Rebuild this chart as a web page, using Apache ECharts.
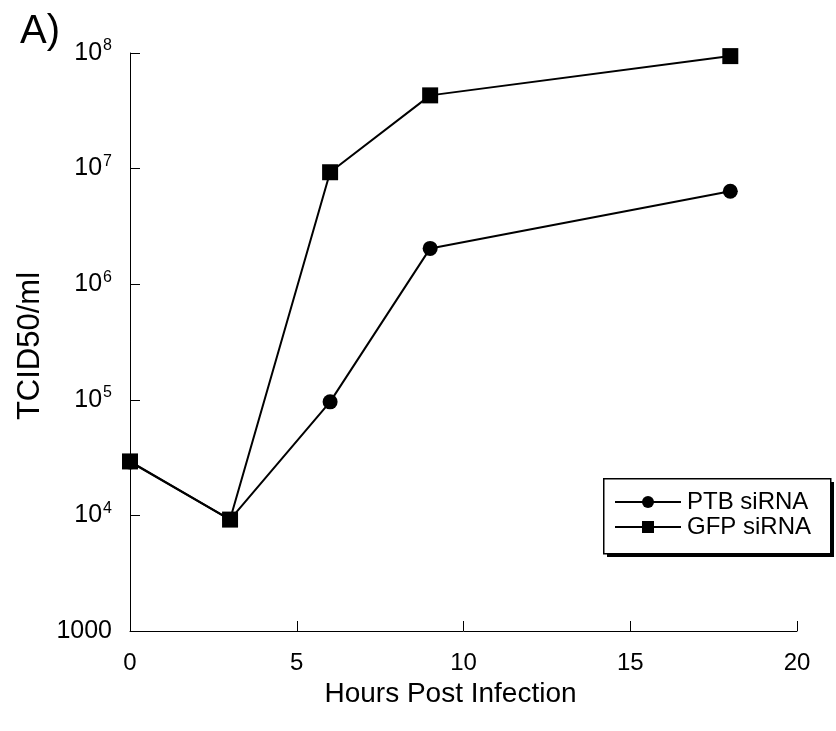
<!DOCTYPE html>
<html>
<head>
<meta charset="utf-8">
<script src="https://cdn.jsdelivr.net/npm/echarts@6/dist/echarts.min.js"></script>
<style>
  html, body { margin: 0; padding: 0; background: #fff; }
  #main { width: 836px; height: 731px; }
</style>
</head>
<body>
<div id="main"></div>
<script>
// hours post infection
var hours = [0, 3, 6, 9, 18];
// TCID50/ml
var ptbValues = [29000, 9200, 96000, 2040000, 6370000];
var gfpValues = [29300, 9200, 9300000, 43000000, 94000000];
var xTicks = [0, 5, 10, 15, 20];

var chartDom = document.getElementById('main');
var myChart = echarts.init(chartDom);
var font = 'Liberation Sans, Arial, sans-serif';

function pairs(xs, ys) {
  return xs.map(function (x, i) { return [x, ys[i]]; });
}

var option = {
  backgroundColor: '#fff',
  animation: false,
  textStyle: { fontFamily: font, color: '#000' },
  title: {
    text: 'A)',
    left: 15,
    top: 7,
    textStyle: { fontSize: 40, fontWeight: 'normal', color: '#000', fontFamily: font }
  },
  grid: {
    left: 130,
    right: 39,
    top: 53,
    bottom: 100
  },
  // legend box with its hard drop shadow
  graphic: [
    { type: 'rect', left: 607, top: 482, shape: { width: 227, height: 75 }, style: { fill: '#000' }, z: 1 },
    { type: 'rect', left: 603, top: 478, shape: { width: 227, height: 75 }, style: { fill: '#fff', stroke: '#000', lineWidth: 1.5 }, z: 2 }
  ],
  legend: {
    left: 614,
    top: 490,
    orient: 'vertical',
    itemWidth: 66,
    itemHeight: 15,
    itemGap: 1,
    padding: 0,
    z: 10,
    textStyle: { fontSize: 24, lineHeight: 24, color: '#000', fontFamily: font, padding: [0, 0, 0, 1] },
    data: ['PTB siRNA', 'GFP siRNA']
  },
  xAxis: {
    type: 'value',
    min: 0,
    max: 20,
    interval: 5,
    name: 'Hours Post Infection',
    nameLocation: 'middle',
    nameGap: 44,
    nameTextStyle: { fontSize: 28, color: '#000', fontFamily: font, padding: [0, 26, 0, 0] },
    axisLine: { lineStyle: { color: '#000', width: 1 } },
    axisTick: { inside: true, length: 10, lineStyle: { color: '#000' } },
    axisLabel: {
      fontSize: 24, color: '#000', margin: 20,
      formatter: function (v) { return xTicks.indexOf(v) >= 0 ? String(v) : ''; }
    },
    splitLine: { show: false }
  },
  yAxis: {
    type: 'log',
    logBase: 10,
    min: 1000,
    max: 100000000,
    name: 'TCID50/ml',
    nameLocation: 'middle',
    nameGap: 83,
    nameRotate: 90,
    nameTextStyle: { fontSize: 31, color: '#000', fontFamily: font, padding: [0, 8, 0, 0] },
    axisLine: { show: true, lineStyle: { color: '#000', width: 1 } },
    axisTick: { show: true, inside: true, length: 10, lineStyle: { color: '#000' } },
    axisLabel: {
      fontSize: 25, color: '#000', margin: 18,
      formatter: function (v) {
        var e = Math.round(Math.log(v) / Math.LN10);
        if (e === 3) return '1000';
        return '10{sup|' + e + '}';
      },
      rich: {
        sup: { fontSize: 16, verticalAlign: 'top', padding: [0, 0, 14, 1], color: '#000' }
      }
    },
    splitLine: { show: false }
  },
  series: [
    {
      name: 'PTB siRNA',
      type: 'line',
      data: pairs(hours, ptbValues),
      symbol: 'circle',
      symbolSize: 15,
      showAllSymbol: true,
      lineStyle: { color: '#000', width: 2 },
      itemStyle: { color: '#000' },
      z: 3
    },
    {
      name: 'GFP siRNA',
      type: 'line',
      data: pairs(hours, gfpValues),
      symbol: 'rect',
      symbolSize: 16,
      showAllSymbol: true,
      lineStyle: { color: '#000', width: 2 },
      itemStyle: { color: '#000' },
      z: 4
    }
  ]
};

myChart.setOption(option);
</script>
</body>
</html>
